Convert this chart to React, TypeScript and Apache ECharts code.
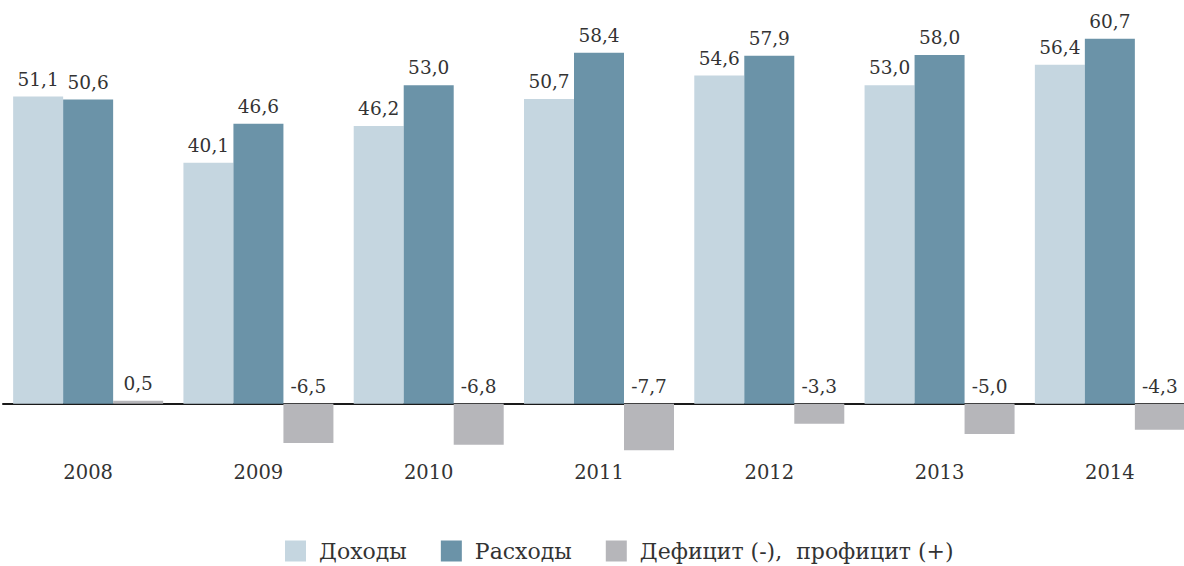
import React, { useEffect, useRef } from "react";
import * as echarts from "echarts";

const years = ["2008", "2009", "2010", "2011", "2012", "2013", "2014"];
const revenues = [51.1, 40.1, 46.2, 50.7, 54.6, 53.0, 56.4];
const expenses = [50.6, 46.6, 53.0, 58.4, 57.9, 58.0, 60.7];
const balance = [0.5, -6.5, -6.8, -7.7, -3.3, -5.0, -4.3];
const seriesNames = ["Доходы", "Расходы", "Дефицит (-),  профицит (+)"];

const FONT = "DejaVu Serif";
const fmt = (v: number) => v.toFixed(1).replace(".", ",");

export default function App() {
  const ref = useRef<HTMLDivElement>(null);
  useEffect(() => {
    if (!ref.current) return;
    const chart = echarts.init(ref.current, null, { renderer: "svg" });
    const label = {
      show: true,
      position: "top" as const,
      distance: 8,
      color: "#333",
      fontFamily: FONT,
      fontSize: 18.5,
      formatter: (p: any) => fmt(p.value),
    };
    chart.setOption({
      animation: false,
      backgroundColor: "#fff",
      grid: { left: 3, right: 0, top: 7, bottom: 90 },
      legend: {
        left: 280,
        top: 535,
        itemWidth: 21,
        itemHeight: 21,
        itemGap: 34,
        icon: "rect",
        textStyle: { fontFamily: FONT, fontSize: 22, color: "#333", padding: [0, 0, 0, 8] },
        data: seriesNames,
      },
      xAxis: {
        type: "category",
        data: years,
        axisLine: { show: true, onZero: true, lineStyle: { color: "#1a1a1a", width: 2 } },
        axisTick: { show: false },
        axisLabel: { margin: -14, color: "#333", fontFamily: FONT, fontSize: 19.5 },
      },
      yAxis: {
        type: "value",
        min: -12,
        max: 66,
        show: false,
        splitLine: { show: false },
      },
      series: [
        {
          name: seriesNames[0],
          type: "bar",
          data: revenues,
          barWidth: 50,
          barGap: "0%",
          itemStyle: { color: "#c5d6e0" },
          label,
        },
        {
          name: seriesNames[1],
          type: "bar",
          data: expenses,
          barWidth: 50,
          barGap: "0%",
          itemStyle: { color: "#6b93a8" },
          label,
        },
        {
          name: seriesNames[2],
          type: "bar",
          data: balance,
          barWidth: 50,
          barGap: "0%",
          itemStyle: { color: "#b6b6ba" },
          label,
        },
      ],
    });
    return () => chart.dispose();
  }, []);
  return (
    <div
      style={{
        position: "absolute",
        left: 0,
        top: 0,
        width: 1184,
        height: 566,
        overflow: "hidden",
        background: "#fff",
      }}
    >
      <div ref={ref} style={{ width: 1195, height: 566 }} />
    </div>
  );
}
